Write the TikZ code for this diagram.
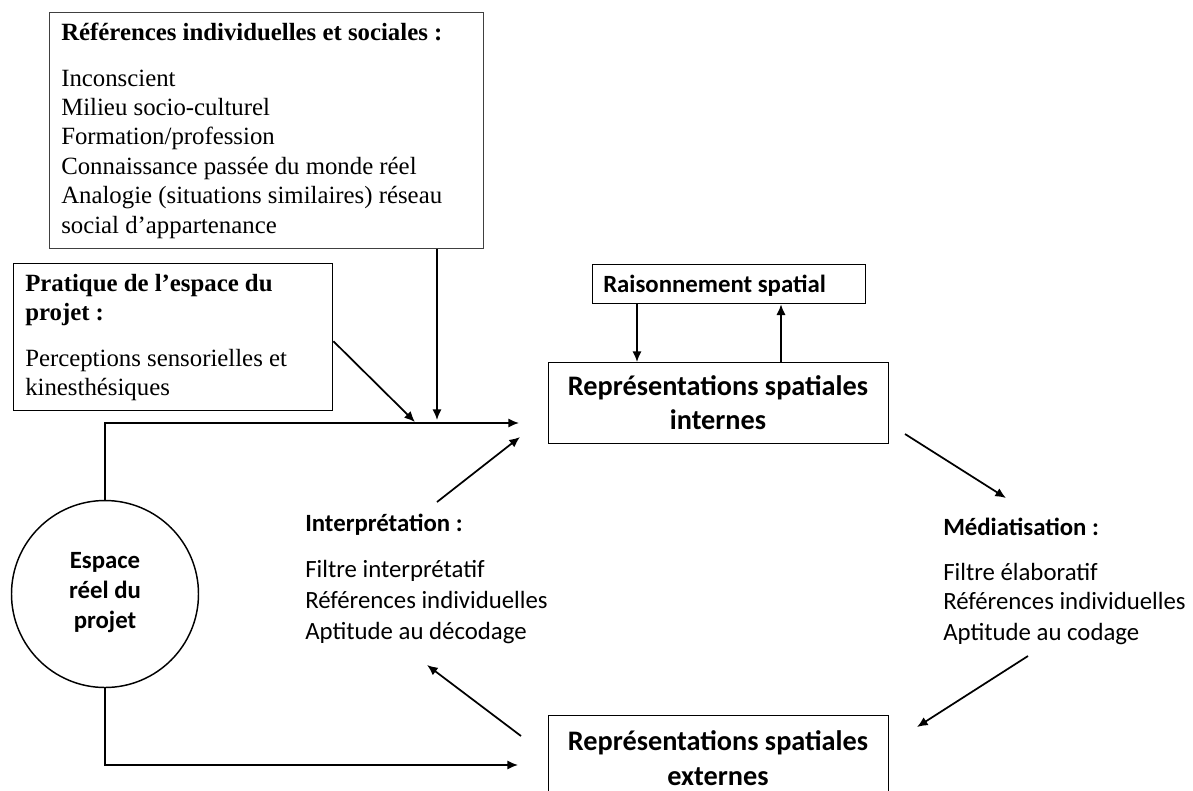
\documentclass[tikz,border=0pt]{standalone}
\usepackage{fontspec}
\setmainfont{Liberation Serif}
\setsansfont{Carlito}
\usetikzlibrary{arrows.meta}
\tikzset{
  tm/.style={font=\fontsize{18.6}{22}\selectfont, anchor=base west, inner sep=0},
  tmb/.style={font=\fontsize{18.6}{22}\selectfont\bfseries, anchor=base west, inner sep=0},
  cb/.style={font=\sffamily\fontsize{18.6}{22}\selectfont, anchor=base west, inner sep=0},
  cbb/.style={font=\sffamily\bfseries\fontsize{18.6}{22}\selectfont, anchor=base west, inner sep=0},
  ctr/.style={font=\sffamily\bfseries\fontsize{18.6}{22}\selectfont, anchor=base, inner sep=0},
  big/.style={font=\sffamily\bfseries\fontsize{21.2}{24}\selectfont, anchor=base, inner sep=0},
  box/.style={draw, line width=1pt, anchor=north west, inner sep=0},
  arr/.style={-{Latex[length=8pt,width=7pt]}, line width=1.3pt},
  ln/.style={line width=1.3pt}
}
\begin{document}
\begin{tikzpicture}[x=0.75pt,y=-0.75pt]
\useasboundingbox (0,0) rectangle (1193,790);
\clip (0,0) rectangle (1193,790);
% boxes
\node[box, draw=black!75, minimum width={434*0.75pt}, minimum height={236*0.75pt}] (refs) at (49,12) {};
\node[box, minimum width={319*0.75pt}, minimum height={147*0.75pt}] (prat) at (13,263) {};
\node[box, minimum width={273*0.75pt}, minimum height={39*0.75pt}] (rais) at (592,264) {};
\node[box, minimum width={340*0.75pt}, minimum height={81*0.75pt}] (intern) at (548,362) {};
\node[box, minimum width={340*0.75pt}, minimum height={90*0.75pt}] (extern) at (548,715) {};
\node[draw, circle, line width=1.1pt, minimum size={187*0.75pt}, inner sep=0] (espace) at (105,594) {};
% texts: references
\node[tmb] (refsH) at (61,40) {Références individuelles et sociales :};
\node[tm] (r1) at (61,86) {Inconscient};
\node[tm] (r2) at (61,115.4) {Milieu socio-culturel};
\node[tm] (r3) at (61,144.8) {Formation/profession};
\node[tm] (r4) at (61,174.2) {Connaissance passée du monde réel};
\node[tm] (r5) at (61,203.6) {Analogie (situations similaires) réseau};
\node[tm] (r6) at (61,233) {social d’appartenance};
% pratique
\node[tmb] (p1) at (25,291) {Pratique de l’espace du};
\node[tmb] (p2) at (25,320) {projet :};
\node[tm] (p3) at (25,366) {Perceptions sensorielles et};
\node[tm] (p4) at (25,395) {kinesthésiques};
% raisonnement
\node[cbb] (raisT) at (603,292) {Raisonnement spatial};
% internes / externes
\node[big] (in1) at (718,395) {Représentations spatiales};
\node[big] (in2) at (718,429) {internes};
\node[big] (ex1) at (718,750) {Représentations spatiales};
\node[big] (ex2) at (718,785) {externes};
% circle
\node[ctr] (e1) at (105,568) {Espace};
\node[ctr] (e2) at (105,598) {réel du};
\node[ctr] (e3) at (105,628) {projet};
% interpretation
\node[cbb] (interp) at (305,531) {Interprétation :};
\node[cb] (i1) at (305,577) {Filtre interprétatif};
\node[cb] (i2) at (305,608) {Références individuelles};
\node[cb] (i3) at (305,639) {Aptitude au décodage};
% mediatisation
\node[cbb] (medi) at (943,535) {Médiatisation :};
\node[cb] (m1) at (943,580) {Filtre élaboratif};
\node[cb] (m2) at (943,609) {Références individuelles};
\node[cb] (m3) at (943,640) {Aptitude au codage};
% coordinates
\coordinate (tA) at (437,420);
\coordinate (tB) at (415,422);
\coordinate (inA) at (519,423);
\coordinate (exA) at (518,765);
\coordinate (iS) at (437,502);
\coordinate (iE) at (520,437);
\coordinate (xS) at (521,736);
\coordinate (xE) at (427,665);
\coordinate (mS) at (905,434);
\coordinate (mE) at (1006,498);
\coordinate (nS) at (1028,656);
\coordinate (nE) at (917,727);
\coordinate (rd) at (637,0);
\coordinate (ru) at (781,0);
% connectors
\draw[arr] (refs.south -| tA) -- (tA);
\draw[arr] ([yshift={-4*0.75pt}]prat.east) -- (tB);
\draw[arr] (espace.north) |- (inA);
\draw[arr] (espace.south) |- (exA);
\draw[arr] (iS) -- (iE);
\draw[arr] (xS) -- (xE);
\draw[arr] (mS) -- (mE);
\draw[arr] (nS) -- (nE);
\draw[arr] (rais.south -| rd) -- (intern.north -| rd);
\draw[arr] (intern.north -| ru) -- (rais.south -| ru);
\end{tikzpicture}
\end{document}
